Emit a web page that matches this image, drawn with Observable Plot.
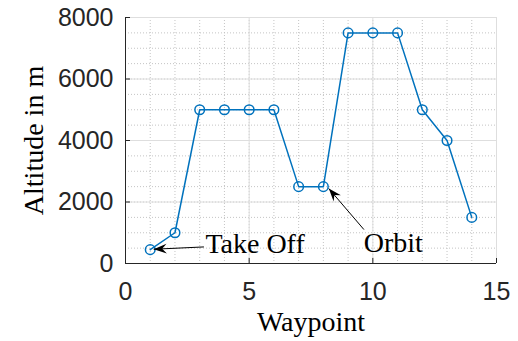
<!DOCTYPE html>
<html>
<head>
<meta charset="utf-8">
<script src="https://cdn.jsdelivr.net/npm/d3@7"></script>
<script src="https://cdn.jsdelivr.net/npm/@observablehq/plot@0.6"></script>
<style>
  html, body { margin: 0; padding: 0; background: #fff; }
  #chart svg { display: block; }
</style>
</head>
<body>
<div id="chart"></div>
<script>
// Flight profile: altitude at each waypoint
const waypoints = [1, 2, 3, 4, 5, 6, 7, 8, 9, 10, 11, 12, 13, 14];
const altitudes = [450, 1000, 5000, 5000, 5000, 5000, 2500, 2500, 7500, 7500, 7500, 5000, 4000, 1500];

// Axis ticks and grid
const xTicks = [0, 5, 10, 15];
const yTicks = [0, 2000, 4000, 6000, 8000];
const xMinorTicks = [0, 1, 2, 3, 4, 5, 6, 7, 8, 9, 10, 11, 12, 13, 14, 15];
const yMinorTicks = [0, 500, 1000, 1500, 2000, 2500, 3000, 3500, 4000, 4500, 5000, 5500, 6000, 6500, 7000, 7500, 8000];

// Annotations (text anchor and arrow endpoints, in data units)
const noteLabels = ["Take Off", "Orbit"];
const noteTextX = [3.23, 9.63];
const noteTextY = [350, 360];
const arrowFromX = [3.17, 9.64];
const arrowFromY = [539, 1104];
const arrowToX = [1.14, 8.22];
const arrowToY = [464, 2436];

const profile = waypoints.map((w, i) => ({waypoint: w, altitude: altitudes[i]}));
const notes = noteLabels.map((label, i) => ({
  label, tx: noteTextX[i], ty: noteTextY[i],
  x1: arrowFromX[i], y1: arrowFromY[i], x2: arrowToX[i], y2: arrowToY[i]
}));

const axisColor = "#262626";
const lineColor = "#0072BD";
const serif = "'Liberation Serif', 'DejaVu Serif', serif";
const sans = "'Liberation Sans', Arial, sans-serif";

// Filled, swept-back arrowheads drawn at the end of each link
function arrowheads(index, scales, values, dimensions, context, next) {
  const g = next(index, scales, values, dimensions, context);
  const {x1: X1, y1: Y1, x2: X2, y2: Y2} = values;
  for (const i of index) {
    const angle = Math.atan2(Y2[i] - Y1[i], X2[i] - X1[i]) * 180 / Math.PI;
    const head = document.createElementNS("http://www.w3.org/2000/svg", "path");
    head.setAttribute("d", "M0,0L-13,-4.8L-8.5,0L-13,4.8Z");
    head.setAttribute("transform", `translate(${X2[i]},${Y2[i]}) rotate(${angle})`);
    head.setAttribute("fill", "#000");
    head.setAttribute("stroke", "none");
    g.appendChild(head);
  }
  return g;
}

const chart = Plot.plot({
  width: 518,
  height: 341,
  marginLeft: 125,
  marginRight: 22,
  marginTop: 17,
  marginBottom: 78,
  style: {background: "#fff", fontFamily: sans, color: axisColor},
  x: {domain: [0, 15]},
  y: {domain: [0, 8000]},
  marks: [
    // minor dotted grid
    Plot.ruleX(xMinorTicks, {stroke: "#c4c4c4", strokeDasharray: "1,2"}),
    Plot.ruleY(yMinorTicks, {stroke: "#c4c4c4", strokeDasharray: "1,2"}),
    // major grid
    Plot.ruleX(xTicks, {stroke: "#dedede"}),
    Plot.ruleY(yTicks, {stroke: "#dedede"}),
    // axis lines and inward ticks
    Plot.ruleX([0], {stroke: axisColor}),
    Plot.ruleY([0], {stroke: axisColor}),
    Plot.tickX(xTicks, {x: d => d, insetTop: 241, stroke: axisColor}),
    Plot.tickY(yTicks, {y: d => d, insetRight: 366, stroke: axisColor}),
    Plot.axisX({ticks: xTicks, tickSize: 0, tickPadding: 19, fontSize: 25, label: null, tickFormat: d => String(d)}),
    Plot.axisY({ticks: yTicks, tickSize: 0, tickPadding: 12, fontSize: 25, label: null, tickFormat: d => String(d)}),
    // altitude profile
    Plot.line(profile, {x: "waypoint", y: "altitude", stroke: lineColor, strokeWidth: 1.5}),
    Plot.dot(profile, {x: "waypoint", y: "altitude", r: 4.8, stroke: lineColor, strokeWidth: 1.5, fill: "none"}),
    // annotations
    Plot.link(notes, {x1: "x1", y1: "y1", x2: "x2", y2: "y2", stroke: "#000", strokeWidth: 1, render: arrowheads}),
    Plot.text(notes, {x: "tx", y: "ty", text: "label", textAnchor: "start", lineAnchor: "bottom",
      fontFamily: serif, fontSize: 28, fill: "#000"}),
    // axis titles
    Plot.text(["Waypoint"], {frameAnchor: "bottom", text: d => d, textAnchor: "middle", lineAnchor: "bottom", dy: 67,
      fontFamily: serif, fontSize: 28, fill: "#000"}),
    Plot.text(["Altitude in m"], {frameAnchor: "left", text: d => d, rotate: -90, textAnchor: "middle", lineAnchor: "bottom", dx: -83,
      fontFamily: serif, fontSize: 28, fill: "#000"})
  ]
});

document.getElementById("chart").append(chart);
</script>
</body>
</html>
